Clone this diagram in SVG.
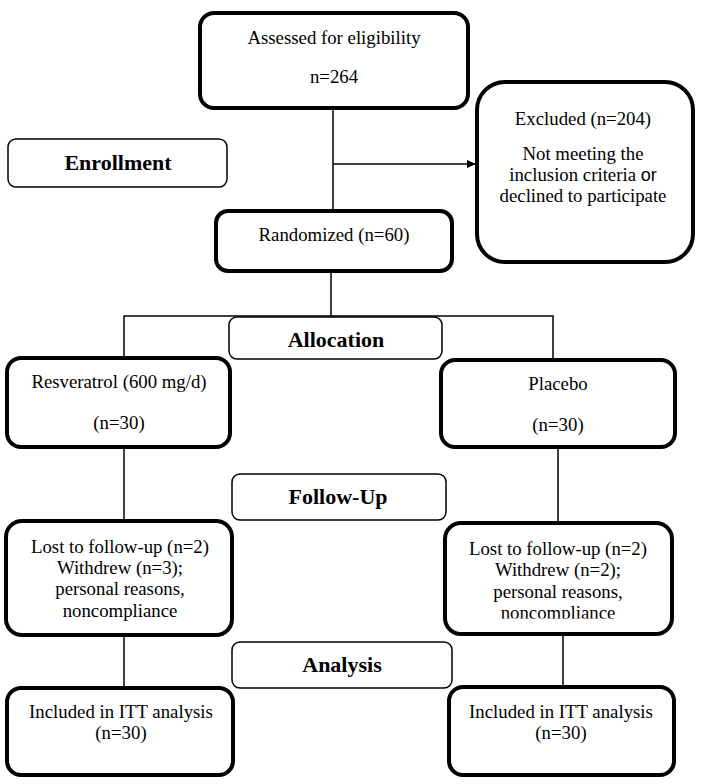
<svg xmlns="http://www.w3.org/2000/svg" width="704" height="784" viewBox="0 0 704 784">
<style>
.thick{fill:#fff;stroke:#000;stroke-width:4}
.thin{fill:#fff;stroke:#000;stroke-width:1.5}
.ln{fill:none;stroke:#000;stroke-width:1.5}
text{font-family:"Liberation Serif","Times New Roman",serif;font-size:18.8px;fill:#000;text-anchor:middle}
.b{font-weight:bold;font-size:22px}
.s{font-family:"Liberation Sans",Arial,sans-serif;font-size:18px}
</style>
<defs>
<marker id="arr" markerWidth="10" markerHeight="10" refX="9" refY="5" orient="auto" markerUnits="userSpaceOnUse">
<path d="M0,1 L9,5 L0,9 Z" fill="#000"/>
</marker>
<clipPath id="clipR"><rect x="440" y="520" width="240" height="98.5"/></clipPath>
</defs>
<rect width="704" height="784" fill="#fff"/>
<g id="connectors">
<line class="ln" x1="333" y1="108" x2="333" y2="211"/>
<line class="ln" x1="333" y1="164" x2="476" y2="164" marker-end="url(#arr)"/>
<line class="ln" x1="331" y1="271" x2="331" y2="316"/>
<polyline class="ln" points="124,358 124,316 553,316 553,360"/>
<line class="ln" x1="124" y1="447" x2="124" y2="521"/>
<line class="ln" x1="558" y1="447" x2="558" y2="523"/>
<line class="ln" x1="124" y1="635" x2="124" y2="688"/>
<line class="ln" x1="563" y1="635" x2="563" y2="687"/>
</g>
<g id="assessed">
<rect class="thick" x="200" y="13" width="268" height="95" rx="14"/>
<text x="334" y="44">Assessed for eligibility</text>
<text x="334" y="83">n=264</text>
</g>
<g id="excluded">
<rect class="thick" x="477" y="82" width="216" height="180" rx="28"/>
<text x="583" y="125">Excluded (n=204)</text>
<text x="583" y="160">Not meeting the</text>
<text x="583" y="181">inclusion criteria <tspan class="s">or</tspan></text>
<text x="583" y="202">declined to participate</text>
</g>
<g id="enrollment">
<rect class="thin" x="8" y="139" width="219" height="48" rx="8"/>
<text class="b" x="118" y="170">Enrollment</text>
</g>
<g id="randomized">
<rect class="thick" x="216" y="211" width="236" height="60" rx="12"/>
<text x="334" y="241">Randomized (n=60)</text>
</g>
<g id="allocation">
<rect class="thin" x="229" y="317" width="213" height="42" rx="8"/>
<text class="b" x="336" y="347">Allocation</text>
</g>
<g id="resveratrol">
<rect class="thick" x="7" y="358" width="223" height="89" rx="14"/>
<text x="119" y="388">Resveratrol (600 mg/d)</text>
<text x="119" y="429">(n=30)</text>
</g>
<g id="placebo">
<rect class="thick" x="441" y="360" width="234" height="87" rx="14"/>
<text x="558" y="390">Placebo</text>
<text x="558" y="431">(n=30)</text>
</g>
<g id="followup">
<rect class="thin" x="232" y="474" width="214" height="46" rx="8"/>
<text class="b" x="338" y="504">Follow-Up</text>
</g>
<g id="lost-left">
<rect class="thick" x="6" y="521" width="226" height="114" rx="16"/>
<text x="120" y="553">Lost to follow-up (n=2)</text>
<text x="120" y="574">Withdrew (n=3);</text>
<text x="120" y="595">personal reasons,</text>
<text x="120" y="617">noncompliance</text>
</g>
<g id="lost-right">
<rect class="thick" x="445" y="523" width="227" height="111" rx="16"/>
<text x="558" y="555">Lost to follow-up (n=2)</text>
<text x="558" y="576">Withdrew (n=2);</text>
<text x="558" y="598">personal reasons,</text>
<text x="558" y="619" clip-path="url(#clipR)">noncompliance</text>
</g>
<g id="analysis">
<rect class="thin" x="232" y="642" width="220" height="46" rx="8"/>
<text class="b" x="342" y="672">Analysis</text>
</g>
<g id="itt-left">
<rect class="thick" x="7" y="688" width="226" height="87" rx="14"/>
<text x="121" y="718">Included in ITT analysis</text>
<text x="121" y="739">(n=30)</text>
</g>
<g id="itt-right">
<rect class="thick" x="449" y="687" width="225" height="88" rx="14"/>
<text x="561" y="718">Included in ITT analysis</text>
<text x="561" y="739">(n=30)</text>
</g>
</svg>
